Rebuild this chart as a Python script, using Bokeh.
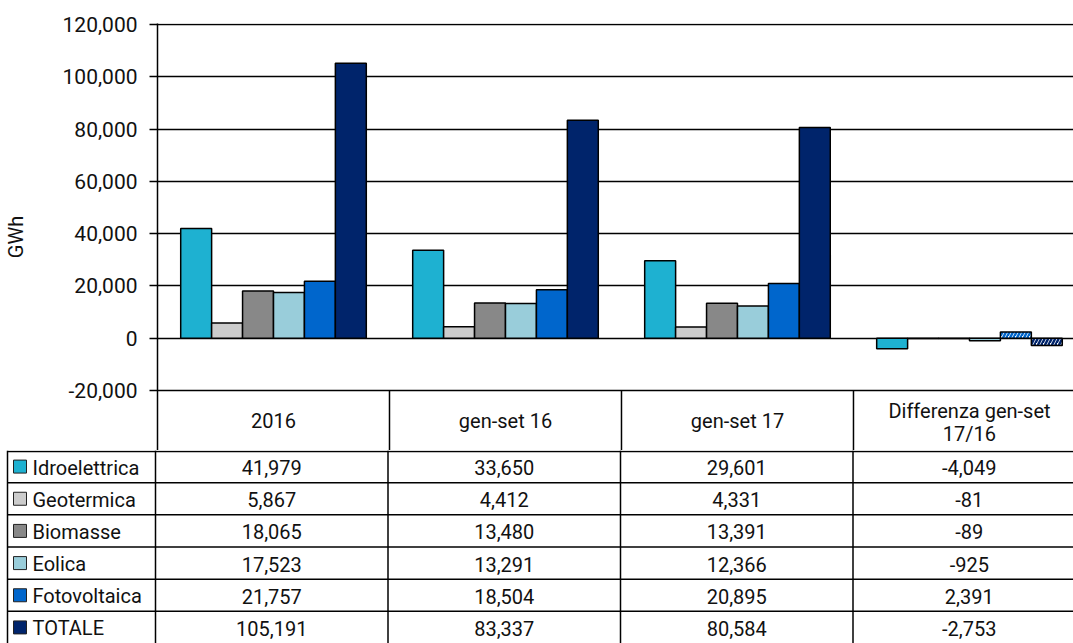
from bokeh.plotting import figure
from bokeh.models import ColumnDataSource, Range1d, FixedTicker, NumeralTickFormatter
from bokeh.transform import dodge
from bokeh.core.properties import value
from bokeh.embed import file_html
from bokeh.resources import INLINE

# ---------------- data ----------------
categories = ["2016", "gen-set 16", "gen-set 17", "Differenza gen-set 17/16"]
header_lines = [["2016"], ["gen-set 16"], ["gen-set 17"], ["Differenza gen-set", "17/16"]]
series = ["Idroelettrica", "Geotermica", "Biomasse", "Eolica", "Fotovoltaica", "TOTALE"]
idroelettrica = [41979, 33650, 29601, -4049]
geotermica = [5867, 4412, 4331, -81]
biomasse = [18065, 13480, 13391, -89]
eolica = [17523, 13291, 12366, -925]
fotovoltaica = [21757, 18504, 20895, 2391]
totale = [105191, 83337, 80584, -2753]
values = [idroelettrica, geotermica, biomasse, eolica, fotovoltaica, totale]
y_ticks = [-20000, 0, 20000, 40000, 60000, 80000, 100000, 120000]
hatched_cells = {("Fotovoltaica", 3), ("TOTALE", 3)}

# ---------------- style / layout ----------------
colors = ["#1EB1D1", "#CCCCCC", "#888888", "#99CDDA", "#0066CC", "#00246B"]
FONT = "Roboto"
TXT = "#111111"
W = 1073
LEFT = 155
TOP = 23
COLW = 232.5           # pixel width of one category column
PLOT_PX = 366          # pixels between -20,000 and 120,000
HEADER_PX = 60         # header row height (inside chart figure)
TH = 193               # table body height
Y_MIN, Y_MAX = y_ticks[0], y_ticks[-1]
UPP = (Y_MAX - Y_MIN) / PLOT_PX     # data units per pixel
CH = TOP + 1 + PLOT_PX + HEADER_PX   # chart figure height
n = len(series)
ROW_H = TH / n
cat_pos = [i + 0.5 for i in range(len(categories))]


def below(px):
    """data value px pixels below the -20,000 line"""
    return Y_MIN - px * UPP


p = figure(width=W, height=CH,
           x_range=Range1d(0, (W - LEFT) / COLW),
           y_range=Range1d(below(HEADER_PX), Y_MAX + UPP),
           x_axis_location=None, toolbar_location=None, output_backend="svg",
           min_border_left=LEFT, min_border_right=0, min_border_top=TOP, min_border_bottom=0)
p.outline_line_color = None
p.xgrid.visible = False
p.ygrid.grid_line_color = "black"
p.ygrid.grid_line_width = 1.5
ax = p.yaxis[0]
ax.ticker = FixedTicker(ticks=y_ticks)
ax.formatter = NumeralTickFormatter(format="0,0")
ax.major_label_text_font = FONT
ax.major_label_text_font_size = "21px"
ax.major_label_text_color = TXT
ax.major_label_standoff = 12
ax.axis_line_color = "black"
ax.axis_line_width = 1.5
ax.major_tick_line_color = "black"
ax.major_tick_line_width = 1.5
ax.major_tick_out = 8
ax.major_tick_in = 0
ax.minor_tick_out = 0
ax.minor_tick_in = 0
ax.axis_label = "GWh"
ax.axis_label_text_font = FONT
ax.axis_label_text_font_size = "20px"
ax.axis_label_text_font_style = "normal"
ax.axis_label_text_color = TXT
ax.axis_label_standoff = 32

bw = 0.8 / n
for j, (name, vals, col) in enumerate(zip(series, values, colors)):
    fills, hatches = [], []
    for i in range(len(categories)):
        if (name, i) in hatched_cells:
            fills.append("white")
            hatches.append("/")
        else:
            fills.append(col)
            hatches.append(" ")
    src = ColumnDataSource(dict(x=cat_pos, val=vals, fill=fills, hatch=hatches))
    off = -0.4 + bw * (j + 0.5)
    p.vbar(x=dodge("x", off), top="val", bottom=0, width=bw, source=src,
           fill_color="fill", line_color="black", line_width=1.5,
           hatch_pattern="hatch", hatch_color=col, hatch_scale=7, hatch_weight=2.5)

# header row of the table (category labels), below the -20,000 line
edges = [c - 0.5 for c in cat_pos[1:]] + [cat_pos[-1] + 0.5]
p.segment(x0=edges, y0=[Y_MIN] * len(edges), x1=edges, y1=[below(HEADER_PX + 2)] * len(edges),
          line_color="black", line_width=1.5)
hx, hy, ht = [], [], []
for c, lines in zip(cat_pos, header_lines):
    if len(lines) == 1:
        hx.append(c); hy.append(below(HEADER_PX / 2)); ht.append(lines[0])
    else:
        for k, s in enumerate(lines):
            hx.append(c); hy.append(below(20 + 23 * k)); ht.append(s)
p.text(x=hx, y=hy, text=ht, text_align="center", text_baseline="middle",
       text_font=value(FONT), text_font_size="20px", text_color=TXT)

# ---------------- table body ----------------
t = figure(width=W, height=TH, x_range=Range1d(0, W), y_range=Range1d(TH, 0),
           x_axis_location=None, y_axis_location=None, toolbar_location=None,
           output_backend="svg", min_border=0)
t.outline_line_color = None
t.grid.visible = False

col_edges = [LEFT + i * COLW for i in range(len(categories) + 1)]
col_centers = [LEFT + (i + 0.5) * COLW for i in range(len(categories))]
row_tops = [max(k * ROW_H, 1) for k in range(n)]
row_centers = [k * ROW_H + ROW_H / 2 for k in range(n)]
TL = 7  # table left border

t.segment(x0=col_edges, y0=[0] * len(col_edges), x1=col_edges, y1=[TH] * len(col_edges),
          line_color="black", line_width=1.5)
t.segment(x0=[TL] * n, y0=row_tops, x1=[W] * n, y1=row_tops, line_color="black", line_width=1.5)
t.segment(x0=[TL], y0=[0], x1=[TL], y1=[TH], line_color="black", line_width=1.5)

cx, cy, ct = [], [], []
for j, vals in enumerate(values):
    for i, v in enumerate(vals):
        cx.append(col_centers[i]); cy.append(row_centers[j] + 1); ct.append(f"{v:,}")
t.text(x=cx, y=cy, text=ct, text_align="center", text_baseline="middle",
       text_font=value(FONT), text_font_size="20px", text_color=TXT)

t.rect(x=[TL + 12.5] * n, y=row_centers, width=13, height=13, fill_color=colors,
       line_color="#222222", line_width=1)
t.text(x=[TL + 25] * n, y=[c + 1 for c in row_centers], text=series, text_align="left",
       text_baseline="middle", text_font=value(FONT), text_font_size="20px", text_color=TXT)

open("out.html", "w").write(file_html([p, t], INLINE))
